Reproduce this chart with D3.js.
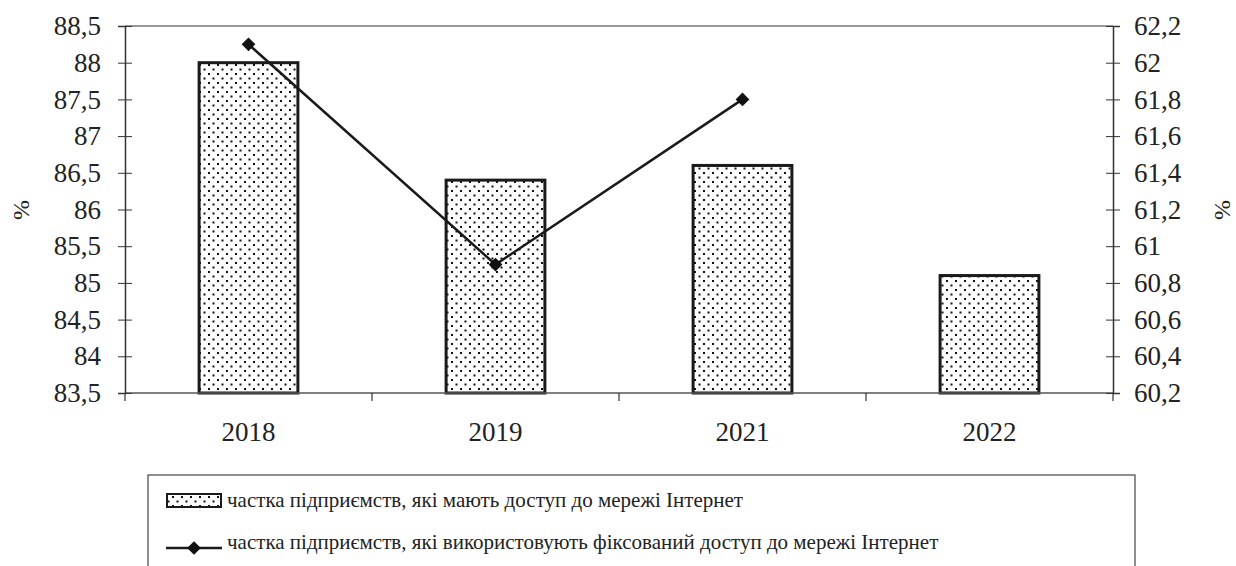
<!DOCTYPE html>
<html><head><meta charset="utf-8">
<script src="https://cdn.jsdelivr.net/npm/d3@7"></script>
<style>
@font-face { font-family: "ChartSerif"; src: local("Liberation Serif"), local("LiberationSerif"), local("LiberationSerif-Regular"); }
</style>
</head><body style="margin:0"><svg id="c" width="1236" height="566"></svg>
<script>
const categories = ["2018","2019","2021","2022"];
const accessValues = [88.0, 86.4, 86.6, 85.1];
const fixedValues = [62.1, 60.9, 61.8, null];
const leftTicks = [83.5,84,84.5,85,85.5,86,86.5,87,87.5,88,88.5];
const rightTicks = [60.2,60.4,60.6,60.8,61,61.2,61.4,61.6,61.8,62,62.2];
const legendLabels = ["частка підприємств, які мають доступ до мережі Інтернет","частка підприємств, які використовують фіксований доступ до мережі Інтернет"];

const svg = d3.select("#c");
const L=125,R=1113,T=26,B=393;
const x = d3.scaleBand().domain(categories).range([L,R]).paddingInner(0.6).paddingOuter(0.3);
const yL = d3.scaleLinear().domain([83.5,88.5]).range([B,T]);
const yR = d3.scaleLinear().domain([60.2,62.2]).range([B,T]);
const fmt = d => String(d).replace(".",",");
function serif(sel, size){ return sel.style("font-family",'"Liberation Serif", monospace').attr("font-size",size).attr("fill","#222"); }

const defs = svg.append("defs");
const pat = defs.append("pattern").attr("id","dots").attr("patternUnits","userSpaceOnUse").attr("width",9).attr("height",9);
pat.append("rect").attr("width",9).attr("height",9).attr("fill","#fff");
pat.append("rect").attr("x",1).attr("y",1).attr("width",2).attr("height",2).attr("fill","#111");
pat.append("rect").attr("x",5.5).attr("y",5.5).attr("width",2).attr("height",2).attr("fill","#111");

svg.append("line").attr("x1",L).attr("x2",R).attr("y1",T).attr("y2",T).attr("stroke","#999").attr("stroke-width",2);

svg.selectAll("rect.bar").data(accessValues).join("rect").attr("class","bar")
 .attr("x",(d,i)=>x(categories[i])).attr("width",x.bandwidth())
 .attr("y",d=>yL(d)).attr("height",d=>B-yL(d))
 .attr("fill","url(#dots)").attr("stroke","#1a1a1a").attr("stroke-width",3);

svg.append("line").attr("x1",L).attr("x2",R).attr("y1",B).attr("y2",B).attr("stroke","#555").attr("stroke-width",1.5);
const step = x.step();
const bounds = d3.range(categories.length+1).map(i=>L+i*step);
svg.selectAll("line.xt").data(bounds).join("line").attr("class","xt")
 .attr("x1",d=>d).attr("x2",d=>d).attr("y1",B).attr("y2",B+8).attr("stroke","#333").attr("stroke-width",1.2);
serif(svg.selectAll("text.xl").data(categories).join("text").attr("class","xl")
 .attr("x",d=>x(d)+x.bandwidth()/2).attr("y",441).attr("text-anchor","middle").text(d=>d), 27);

const gl = svg.append("g").attr("transform",`translate(${L},0)`)
 .call(d3.axisLeft(yL).tickValues(leftTicks).tickFormat(fmt).tickSize(7).tickPadding(17));
gl.select(".domain").attr("stroke","#333").attr("stroke-width",1.5);
gl.selectAll(".tick line").attr("x2",7).attr("x1",-7).attr("stroke","#333");
serif(gl.selectAll("text"), 27);

const gr = svg.append("g").attr("transform",`translate(${R},0)`)
 .call(d3.axisRight(yR).tickValues(rightTicks).tickFormat(fmt).tickSize(7).tickPadding(14));
gr.select(".domain").attr("stroke","#333").attr("stroke-width",1.5);
gr.selectAll(".tick line").attr("x1",-7).attr("x2",7).attr("stroke","#333");
serif(gr.selectAll("text"), 27);

serif(svg.append("text").attr("transform","translate(29,210) rotate(-90)").attr("text-anchor","middle").text("%"), 24);
serif(svg.append("text").attr("transform","translate(1230,210) rotate(-90)").attr("text-anchor","middle").text("%"), 24);

const pts = fixedValues.map((v,i)=>({c:categories[i],v})).filter(d=>d.v!=null);
const line = d3.line().x(d=>x(d.c)+x.bandwidth()/2).y(d=>yR(d.v));
svg.append("path").datum(pts).attr("d",line).attr("fill","none").attr("stroke","#1a1a1a").attr("stroke-width",2.5);
const diamond = d3.symbol().type(d3.symbolDiamond2).size(120);
svg.selectAll("path.pt").data(pts).join("path").attr("class","pt")
 .attr("transform",d=>`translate(${x(d.c)+x.bandwidth()/2},${yR(d.v)})`).attr("d",diamond).attr("fill","#111");

svg.append("rect").attr("x",148).attr("y",475).attr("width",987).attr("height",120).attr("fill","none").attr("stroke","#444").attr("stroke-width",1.2);
svg.append("rect").attr("x",167).attr("y",494).attr("width",54).attr("height",13).attr("fill","url(#dots)").attr("stroke","#1a1a1a").attr("stroke-width",2);
svg.append("line").attr("x1",166).attr("x2",222).attr("y1",548).attr("y2",548).attr("stroke","#1a1a1a").attr("stroke-width",2.5);
svg.append("path").attr("transform","translate(194,548)").attr("d",diamond).attr("fill","#111");
serif(svg.selectAll("text.lg").data(legendLabels).join("text").attr("class","lg")
 .attr("x",227).attr("y",(d,i)=>507+i*42).text(d=>d), 21);
</script></body></html>
